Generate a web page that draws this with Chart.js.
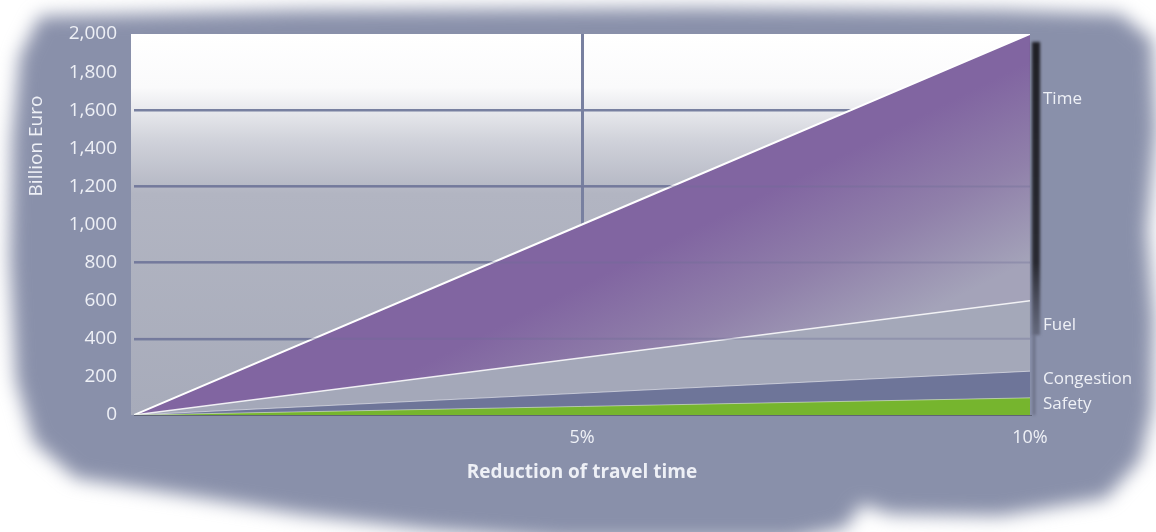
<!DOCTYPE html>
<html>
<head>
<meta charset="utf-8">
<title>Reduction of travel time</title>
<script src="https://cdn.jsdelivr.net/npm/chart.js"></script>
<style>
  html, body { margin: 0; padding: 0; background: #ffffff; }
  #wrap { position: relative; width: 1156px; height: 532px; }
</style>
</head>
<body>
<div id="wrap"><canvas id="chart" width="1156" height="532"></canvas></div>
<script>
// travel time reduction (%) along the x axis
const reduction = [0, 5, 10];

// benefit per category in billion euro, stacked from the bottom up
const seriesNames = ['Safety', 'Congestion', 'Fuel', 'Time'];
const safety = [0, 45, 90];
const congestion = [0, 70, 140];
const fuel = [0, 185, 370];
const time = [0, 700, 1400];

const yTicks = [0, 200, 400, 600, 800, 1000, 1200, 1400, 1600, 1800, 2000];
const xTicks = [5, 10];

// where the series names sit on the right, in y-axis units
const nameAnchors = [58, 189, 472, 1660];

const FONT = '"Open Sans", "DejaVu Sans", sans-serif';
const TEXT = '#eef0f6';
const GRID = '#7880a0';

function points(values) {
  return values.map((v, i) => ({ x: reduction[i], y: v }));
}

// ragged paper-like backdrop behind the whole chart
const backdrop = {
  id: 'backdrop',
  beforeDraw(chart) {
    const ctx = chart.ctx;
    const a = chart.chartArea;
    const edge = [
      [40, 16], [300, 10], [700, 8], [1000, 10], [1120, 14], [1152, 40],
      [1156, 130], [1147, 230], [1154, 320], [1152, 410], [1140, 460],
      [1106, 498], [1000, 516], [890, 514], [862, 504], [845, 528],
      [790, 540], [560, 540], [430, 530], [300, 514], [190, 496],
      [76, 478], [34, 442], [16, 380], [10, 260], [12, 140], [20, 56]
    ];
    ctx.save();
    ctx.filter = 'blur(9px)';
    ctx.fillStyle = '#8990aa';
    ctx.beginPath();
    edge.forEach((p, i) => i ? ctx.lineTo(p[0], p[1]) : ctx.moveTo(p[0], p[1]));
    ctx.closePath();
    ctx.fill();
    ctx.restore();

    // plot panel: white at the top, greying downwards
    const g = ctx.createLinearGradient(0, a.top, 0, a.bottom);
    g.addColorStop(0, '#ffffff');
    g.addColorStop(0.14, '#fafafb');
    g.addColorStop(0.28, '#d0d2da');
    g.addColorStop(0.42, '#b2b5c2');
    g.addColorStop(1, '#a7abba');
    ctx.save();
    ctx.fillStyle = g;
    ctx.fillRect(a.left - 3, a.top, a.right - a.left + 3, a.bottom - a.top);
    ctx.restore();
  },
  afterDatasetsDraw(chart) {
    const ctx = chart.ctx;
    const a = chart.chartArea;
    const y = chart.scales.y;
    // grid shows faintly through the filled areas
    ctx.save();
    ctx.strokeStyle = 'rgba(110,110,150,0.35)';
    ctx.lineWidth = 2;
    [400, 800, 1200].forEach(v => {
      const py = y.getPixelForValue(v);
      ctx.beginPath();
      ctx.moveTo(a.left, py);
      ctx.lineTo(a.right, py);
      ctx.stroke();
    });
    ctx.restore();

    // dark edge on the right of the panel
    ctx.save();
    ctx.filter = 'blur(1.5px)';
    const s = ctx.createLinearGradient(0, a.top, 0, a.bottom);
    s.addColorStop(0, 'rgba(25,25,30,0.95)');
    s.addColorStop(0.6, 'rgba(30,30,36,0.9)');
    s.addColorStop(0.78, 'rgba(60,62,75,0.5)');
    s.addColorStop(1, 'rgba(70,72,85,0.35)');
    ctx.fillStyle = s;
    ctx.fillRect(a.right + 2, a.top + 8, 8, y.getPixelForValue(420) - a.top - 8);
    ctx.fillStyle = 'rgba(70,72,88,0.6)';
    ctx.fillRect(a.right + 3, y.getPixelForValue(420), 2, a.bottom - y.getPixelForValue(420));
    ctx.restore();
  },
  afterDraw(chart) {
    const ctx = chart.ctx;
    const a = chart.chartArea;
    const y = chart.scales.y;
    ctx.save();
    ctx.fillStyle = TEXT;
    ctx.textBaseline = 'middle';
    ctx.font = '17px ' + FONT;
    seriesNames.forEach((name, i) => {
      ctx.fillText(name, a.right + 13, y.getPixelForValue(nameAnchors[i]));
    });
    // y-axis title
    ctx.translate(37, 146);
    ctx.rotate(-Math.PI / 2);
    ctx.textAlign = 'center';
    ctx.font = '19px ' + FONT;
    ctx.fillText('Billion Euro', 0, 0);
    ctx.restore();
  }
};

function timeFill(context) {
  const a = context.chart.chartArea;
  if (!a) return '#8165a1';
  const ctx = context.chart.ctx;
  const x0 = a.left + (a.right - a.left) * 0.72;
  const y0 = a.top + (a.bottom - a.top) * 0.4;
  const g = ctx.createLinearGradient(x0, y0, x0 + 80, y0 + 160);
  g.addColorStop(0, '#8165a1');
  g.addColorStop(0.5, '#9080aa');
  g.addColorStop(1, '#a4a3b9');
  return g;
}

new Chart(document.getElementById('chart'), {
  type: 'line',
  data: {
    datasets: [
      {
        label: seriesNames[0],
        data: points(safety),
        fill: 'origin',
        backgroundColor: '#76b52e',
        borderColor: 'rgba(235,240,235,0.5)',
        borderWidth: 1
      },
      {
        label: seriesNames[1],
        data: points(congestion),
        fill: '-1',
        backgroundColor: '#6e7599',
        borderColor: 'rgba(240,240,245,0.6)',
        borderWidth: 1
      },
      {
        label: seriesNames[2],
        data: points(fuel),
        fill: '-1',
        backgroundColor: '#a4a8b9',
        borderColor: 'rgba(255,255,255,0.85)',
        borderWidth: 1.5
      },
      {
        label: seriesNames[3],
        data: points(time),
        fill: '-1',
        backgroundColor: timeFill,
        borderColor: '#ffffff',
        borderWidth: 2
      }
    ]
  },
  options: {
    responsive: false,
    animation: false,
    layout: { padding: { left: 0, right: 126, top: 34, bottom: 48 } },
    elements: { point: { radius: 0 }, line: { tension: 0 } },
    plugins: { legend: { display: false }, tooltip: { enabled: false } },
    scales: {
      x: {
        type: 'linear',
        min: 0,
        max: 10,
        afterFit: scale => { scale.height = 69; },
        afterBuildTicks: scale => { scale.ticks = xTicks.map(v => ({ value: v })); },
        ticks: {
          color: TEXT,
          font: { family: FONT, size: 18 },
          padding: 12,
          callback: v => v + '%'
        },
        grid: {
          drawTicks: false,
          lineWidth: 3,
          color: c => c.tick && c.tick.value === 5 ? GRID : 'transparent'
        },
        border: { display: true, color: 'rgba(60,62,75,0.55)', width: 1 },
        title: {
          display: true,
          text: 'Reduction of travel time',
          color: TEXT,
          font: { family: FONT, size: 19, weight: 'bold' },
          padding: 0
        }
      },
      y: {
        stacked: true,
        min: 0,
        max: 2000,
        afterFit: scale => { scale.width = 134; },
        afterBuildTicks: scale => { scale.ticks = yTicks.map(v => ({ value: v })); },
        ticks: {
          color: TEXT,
          font: { family: FONT, size: 19 },
          padding: 17,
          callback: v => v.toLocaleString('en-US')
        },
        grid: {
          drawTicks: false,
          lineWidth: 2.5,
          color: c => {
            const v = c.tick ? c.tick.value : 0;
            return v > 0 && v < 2000 && v % 400 === 0 ? GRID : 'transparent';
          }
        },
        border: { display: false }
      }
    }
  },
  plugins: [backdrop]
});
</script>
</body>
</html>
